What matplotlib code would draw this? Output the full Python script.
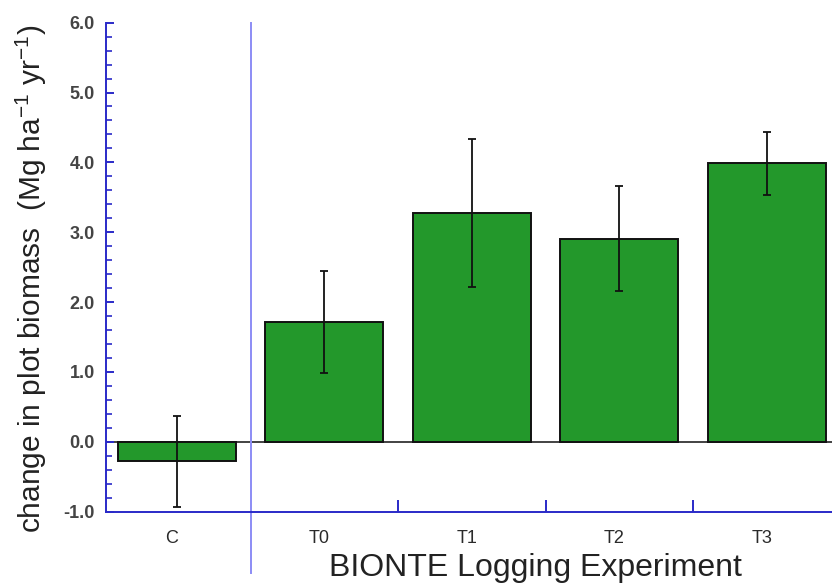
import matplotlib
matplotlib.use("Agg")
import matplotlib.pyplot as plt
from matplotlib.ticker import MultipleLocator, FixedLocator
from matplotlib.lines import Line2D
from matplotlib.transforms import ScaledTranslation

categories = ["C", "T0", "T1", "T2", "T3"]
values = [-0.28, 1.72, 3.27, 2.91, 3.99]
errors = [0.65, 0.73, 1.06, 0.75, 0.45]

plt.rcParams['font.family'] = ['Liberation Sans', 'DejaVu Sans']
plt.rcParams['mathtext.fontset'] = 'custom'
plt.rcParams['mathtext.rm'] = 'Liberation Sans'
plt.rcParams['mathtext.default'] = 'regular'

fig = plt.figure(figsize=(8.32, 5.85), dpi=100)
ax = fig.add_axes([0.1274, 0.1253, 0.883, 0.836])

x = list(range(len(categories)))
ax.bar(x, values, width=0.8, color='#23982B', edgecolor='#111111', linewidth=1.4, zorder=2)
ax.errorbar(x, values, yerr=errors, fmt='none', ecolor='#111111', elinewidth=1.3,
            capsize=3, capthick=1.3, zorder=3)

ax.axhline(0, color='#222222', linewidth=1.2, zorder=1)

ax.set_xlim(-0.48, 4.5)
ax.set_ylim(-1.0, 6.0)

blue = '#2A2AC8'
for s in ['top', 'right']:
    ax.spines[s].set_visible(False)
for s in ['left', 'bottom']:
    ax.spines[s].set_color(blue)
    ax.spines[s].set_linewidth(1.4)

# separator line between control and treatments
sep = Line2D([0.5, 0.5], [-0.125, 1.0], transform=ax.get_xaxis_transform(),
             color='#8C8CF5', linewidth=1.4, clip_on=False, zorder=1)
ax.add_line(sep)

ax.set_xticks(x)
ax.set_xticklabels(categories)
ax.xaxis.set_minor_locator(FixedLocator([1.5, 2.5, 3.5]))
ax.tick_params(axis='x', which='major', length=0, pad=13, labelsize=13, labelcolor='#2a2a2a')
ax.tick_params(axis='x', which='minor', direction='in', length=9, width=1.4, color=blue)
shift = ScaledTranslation(-5 / 100, 0, fig.dpi_scale_trans)
for lab in ax.get_xticklabels():
    lab.set_transform(lab.get_transform() + shift)

ax.yaxis.set_major_locator(MultipleLocator(1.0))
ax.yaxis.set_minor_locator(MultipleLocator(0.2))
ax.set_yticks([-1, 0, 1, 2, 3, 4, 5, 6])
ax.set_yticklabels([f"{v:.1f}" for v in [-1, 0, 1, 2, 3, 4, 5, 6]])
ax.tick_params(axis='y', which='major', direction='in', length=6, width=1.4, color=blue,
               pad=8, labelsize=13, labelcolor='#444444')
for lab in ax.get_yticklabels():
    lab.set_fontweight('bold')
ax.tick_params(axis='y', which='minor', direction='in', length=4, width=1.2, color=blue)

ax.set_xlabel("BIONTE Logging Experiment", fontsize=23, color='#222222', va='center')
ax.xaxis.set_label_coords(0.585, -0.115)
ax.set_ylabel("change in plot biomass  (Mg ha$^{-1}$ yr$^{-1}$)", fontsize=21.5,
              color='#222222', va='center')
ax.yaxis.set_label_coords(-0.102, 0.477)

fig.savefig("out.png", dpi=100)
